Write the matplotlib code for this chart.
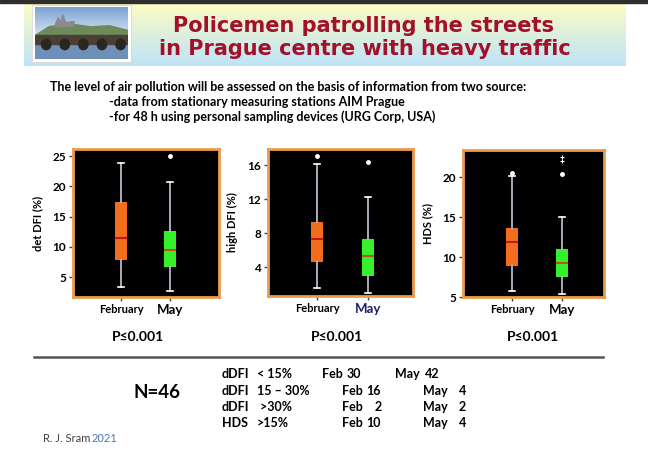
import numpy as np
import matplotlib.pyplot as plt
from matplotlib.patches import Rectangle, Ellipse, Polygon

W, H = 648, 451

# boxplot summaries, per panel: [February, May]
groups = ['February', 'May']
ylabels = ['det DFI (%)', 'high DFI (%)', 'HDS (%)']
whis_lo = [[3.4, 2.7], [1.6, 0.9], [5.8, 5.4]]
q1 = [[7.8, 6.6], [4.6, 3.0], [8.9, 7.5]]
median = [[11.5, 9.5], [7.3, 5.3], [11.9, 9.2]]
q3 = [[17.4, 12.6], [9.3, 7.3], [13.6, 11.0]]
whis_hi = [[23.9, 20.7], [16.1, 12.3], [20.2, 15.0]]
outliers = [[[], [25.0]], [[17.1], [16.4]], [[20.5], [20.4]]]
extremes = [[[], []], [[], []], [[], [22.0, 22.5]]]
p_text = ['P≤0.001', 'P≤0.001', 'P≤0.001']
yticks = [[5, 10, 15, 20, 25], [4, 8, 12, 16], [5, 10, 15, 20]]

# table under the charts
tab_param = ['dDFI', 'dDFI', 'dDFI', 'HDS']
tab_range = ['< 15%', '15 – 30%', ' >30%', '>15%']
tab_feb = [30, 16, 2, 10]
tab_may = [42, 4, 2, 4]
n_subjects = 46


def fx(px):
    return px / W


def fy(py):
    return 1 - py / H


plt.rcParams['font.family'] = ['Lato', 'DejaVu Sans']

fig = plt.figure(figsize=(6.48, 4.51), dpi=100)

# dark strip on top
fig.patches.append(Rectangle((0, fy(3)), 1, 3 / H, transform=fig.transFigure,
                             color='#2e2e2e', zorder=0))

# header band, yellow to light blue
hdr = fig.add_axes([fx(24), fy(66), fx(626 - 24), 63 / H])
g = np.linspace(0, 1, 64)[:, None, None]
top = np.array([253, 252, 196]) / 255
bot = np.array([190, 227, 247]) / 255
hdr.imshow(top + (bot - top) * g, aspect='auto', extent=[0, 1, 0, 1])
hdr.axis('off')

# picture of Prague (drawn roughly), white frame first
frame = fig.add_axes([fx(32), fy(62), fx(99), 57 / H])
frame.set_facecolor('white')
frame.set_xticks([])
frame.set_yticks([])
for s in frame.spines.values():
    s.set_color('#d8d8d8')
    s.set_linewidth(0.6)
ph = fig.add_axes([fx(35), fy(59), fx(93), 52 / H])
sky_t = np.array([120, 160, 210]) / 255
sky_b = np.array([225, 235, 245]) / 255
ph.imshow(sky_t + (sky_b - sky_t) * g, aspect='auto', extent=[0, 1, 0.4, 1])
ph.add_patch(Polygon([[0, 0.45], [0.15, 0.62], [0.35, 0.68], [0.6, 0.62],
                      [0.8, 0.64], [1, 0.55], [1, 0.4], [0, 0.4]],
                     color='#6f8a5a'))
ph.add_patch(Polygon([[0.22, 0.66], [0.25, 0.8], [0.27, 0.7], [0.3, 0.85],
                      [0.33, 0.7], [0.42, 0.72], [0.42, 0.64], [0.22, 0.62]],
                     color='#8a8a90'))
ph.add_patch(Rectangle((0, 0), 1, 0.42, color='#6d8fb8'))
ph.add_patch(Rectangle((0, 0.28), 1, 0.18, color='#4a3f32'))
for cx in [0.12, 0.32, 0.52, 0.72, 0.92]:
    ph.add_patch(Ellipse((cx, 0.28), 0.1, 0.2, color='#2a2620'))
ph.set_xlim(0, 1)
ph.set_ylim(0, 1)
ph.axis('off')

# title
title_kw = dict(ha='center', va='baseline', fontsize=15, weight='bold',
                color='#a3102b', family='DejaVu Sans')
fig.text(fx(363), fy(32), 'Policemen patrolling the streets', **title_kw)
fig.text(fx(365), fy(55), 'in Prague centre with heavy traffic', **title_kw)

# intro text
fig.text(fx(50), fy(91), 'The level of air pollution will be assessed on the '
         'basis of information from two source:', fontsize=9, weight='bold')
fig.text(fx(109), fy(106), '-data from stationary measuring stations AIM Prague',
         fontsize=9, weight='bold')
fig.text(fx(109), fy(121), '-for 48 h using personal sampling devices '
         '(URG Corp, USA)', fontsize=9, weight='bold')

# box plot panels: left, right, top, bottom in pixels
boxes_px = [(73, 219, 149, 297), (268, 413, 149, 296), (463, 604, 150, 297)]
xlims = [(0.02, 3.0), (0.04, 2.88), (0.02, 2.84)]
ylims = [(1.7, 26.2), (0.6, 17.9), (5.0, 23.4)]
p_x = [138, 337, 533]
box_colors = ['#f26d1c', '#35f02a']
med_colors = ['#c8141c', '#b4561a']

for i in range(3):
    l, r, t, b = boxes_px[i]
    ax = fig.add_axes([fx(l), fy(b), fx(r - l), (b - t) / H])
    ax.set_facecolor('black')
    stats = []
    for j in range(2):
        stats.append(dict(whislo=whis_lo[i][j], q1=q1[i][j], med=median[i][j],
                          q3=q3[i][j], whishi=whis_hi[i][j],
                          fliers=outliers[i][j]))
    bp = ax.bxp(stats, positions=[1, 2], widths=0.25, capwidths=0.12,
                patch_artist=True,
                whiskerprops=dict(color='#c4c8d8', lw=1.2),
                capprops=dict(color='white', lw=1.2),
                flierprops=dict(marker='o', markersize=2.5,
                                markerfacecolor='white',
                                markeredgecolor='white'),
                boxprops=dict(lw=0))
    for j in range(2):
        bp['boxes'][j].set_facecolor(box_colors[j])
        bp['medians'][j].set_color(med_colors[j])
        bp['medians'][j].set_linewidth(1.5)
        if extremes[i][j]:
            ax.plot([j + 1] * len(extremes[i][j]), extremes[i][j], ls='none',
                    marker='+', markersize=3, color='white', mew=0.8)
    ax.set_xlim(*xlims[i])
    ax.set_ylim(*ylims[i])
    ax.set_yticks(yticks[i])
    ax.set_xticks([1, 2])
    ax.set_xticklabels(groups)
    for s in ax.spines.values():
        s.set_color('#eb9c4c')
        s.set_linewidth(2)
    ax.tick_params(length=3, width=1, color='#404040', labelsize=8.5,
                   pad=2)
    for lab in ax.get_yticklabels():
        lab.set_fontweight('bold')
    xl = ax.get_xticklabels()
    xl[0].set_fontweight('bold')
    xl[0].set_fontsize(8)
    xl[1].set_fontweight('bold')
    xl[1].set_fontsize(9.5)
    if i == 1:
        xl[1].set_color('#1c1c6a')
    ax.set_ylabel(ylabels[i], fontsize=8, weight='bold')
    ax.yaxis.set_label_coords(-30 / (r - l), 0.5)
    fig.text(fx(p_x[i]), fy(337), p_text[i], ha='center', va='center',
             fontsize=10, weight='bold')

# separator line
fig.add_artist(plt.Line2D([fx(34), fx(603)], [fy(357), fy(357)],
                          color='#555555', lw=1.8))

fig.text(fx(157), fy(392), 'N=%d' % n_subjects, ha='center', va='center',
         fontsize=13.5, weight='bold')

row_y = [374, 391, 407, 423]
feb_x = [322, 342, 342, 342]
feb_num_x = [347, 366, 375, 366]
may_x = [395, 423, 423, 423]
may_num_x = [425, 459, 459, 459]
kw = dict(va='center', fontsize=9, weight='bold')
for k in range(4):
    y = fy(row_y[k])
    fig.text(fx(222), y, tab_param[k], **kw)
    fig.text(fx(257), y, tab_range[k], **kw)
    fig.text(fx(feb_x[k]), y, 'Feb', **kw)
    fig.text(fx(feb_num_x[k]), y, str(tab_feb[k]), **kw)
    fig.text(fx(may_x[k]), y, 'May', **kw)
    fig.text(fx(may_num_x[k]), y, str(tab_may[k]), **kw)

fig.text(fx(43), fy(438), 'R. J. Sram', va='center', fontsize=8,
         color='#404040')
fig.text(fx(92), fy(438), '2021', va='center', fontsize=8, color='#4a78b4')

fig.savefig('out.png', dpi=100)
